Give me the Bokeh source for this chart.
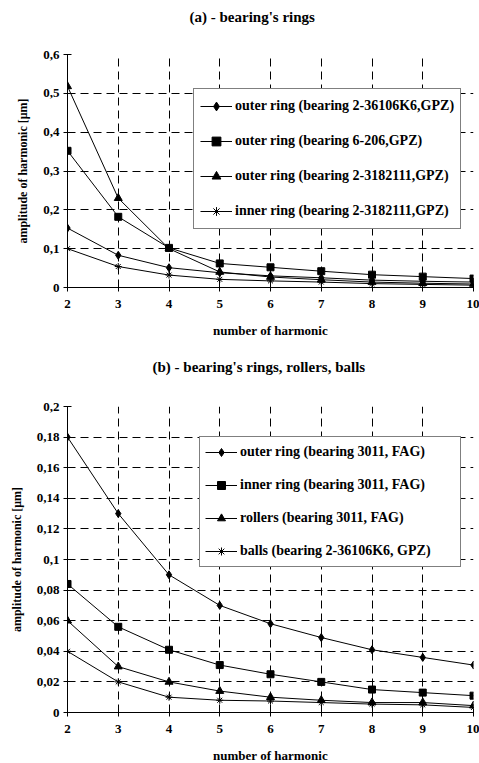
from bokeh.plotting import figure
from bokeh.layouts import column
from bokeh.models import FixedTicker, CustomJSTickFormatter, Legend, LegendItem, Title
from bokeh.embed import file_html
from bokeh.resources import INLINE

# ---------------- data ----------------
harmonics = [2, 3, 4, 5, 6, 7, 8, 9, 10]

a_title = "(a) - bearing's rings"
a_labels = [
    "outer ring (bearing 2-36106K6,GPZ)",
    "outer ring (bearing 6-206,GPZ)",
    "outer ring (bearing 2-3182111,GPZ)",
    "inner ring (bearing 2-3182111,GPZ)",
]
a_outer_36106 = [0.153, 0.083, 0.051, 0.038, 0.030, 0.025, 0.019, 0.016, 0.014]
a_outer_6206 = [0.352, 0.182, 0.102, 0.062, 0.052, 0.042, 0.033, 0.028, 0.023]
a_outer_3182111 = [0.518, 0.230, 0.100, 0.040, 0.027, 0.020, 0.014, 0.011, 0.009]
a_inner_3182111 = [0.100, 0.054, 0.032, 0.021, 0.017, 0.014, 0.010, 0.008, 0.006]
a_yticks = [0, 0.1, 0.2, 0.3, 0.4, 0.5, 0.6]

b_title = "(b) - bearing's rings, rollers, balls"
b_labels = [
    "outer ring (bearing 3011, FAG)",
    "inner ring (bearing 3011, FAG)",
    "rollers (bearing 3011, FAG)",
    "balls (bearing 2-36106K6, GPZ)",
]
b_outer = [0.180, 0.130, 0.090, 0.070, 0.058, 0.049, 0.041, 0.036, 0.031]
b_inner = [0.084, 0.056, 0.041, 0.031, 0.025, 0.020, 0.015, 0.013, 0.011]
b_rollers = [0.060, 0.030, 0.020, 0.014, 0.010, 0.008, 0.0065, 0.0065, 0.0045]
b_balls = [0.040, 0.020, 0.010, 0.008, 0.0075, 0.0065, 0.0055, 0.005, 0.0033]
b_yticks = [0, 0.02, 0.04, 0.06, 0.08, 0.1, 0.12, 0.14, 0.16, 0.18, 0.2]

x_label = "number of harmonic"
y_label = "amplitude of harmonic [\u03bcm]"

markers = ["diamond", "square", "triangle", "asterisk"]
marker_sizes = [8, 7, 8, 7]

FONT = "Liberation Serif"


def make_plot(title, series, labels, yticks, ymax, frame_h, top, bottom, legend_loc,
              leg_lh, leg_sp, leg_pad, leg_lw, title_offset, title_standoff, spacer_standoff):
    p = figure(frame_width=406, frame_height=frame_h, x_range=(2, 10), y_range=(0, ymax),
               output_backend="svg", toolbar_location=None,
               min_border_left=67, min_border_right=6,
               min_border_top=top, min_border_bottom=bottom)
    p.outline_line_color = None
    p.background_fill_color = "white"
    p.border_fill_color = "white"

    # spacer panel between frame and title (keeps the title high above the frame)
    p.add_layout(Title(text=" ", text_font=FONT, text_font_size="15px",
                       standoff=spacer_standoff), "above")
    p.title = Title(text=title, align="left", offset=title_offset,
                    text_font=FONT, text_font_size="15px", text_font_style="bold",
                    text_color="black", standoff=title_standoff)

    for ax in (p.xaxis[0], p.yaxis[0]):
        ax.axis_line_color = "black"
        ax.major_tick_line_color = "black"
        ax.major_tick_in = 4
        ax.major_tick_out = 4
        ax.minor_tick_line_color = None
        ax.major_label_text_font = FONT
        ax.major_label_text_font_style = "bold"
        ax.major_label_text_font_size = "13px"
        ax.major_label_text_color = "black"
        ax.axis_label_text_font = FONT
        ax.axis_label_text_font_style = "bold"
        ax.axis_label_text_color = "black"

    p.xaxis.axis_label_text_font_size = "13px"
    p.yaxis.axis_label_text_font_size = "12px"
    p.xaxis.ticker = FixedTicker(ticks=harmonics)
    p.yaxis.ticker = FixedTicker(ticks=yticks)
    p.yaxis.formatter = CustomJSTickFormatter(
        code="return (Math.round(tick*100)/100).toString().replace('.', ',');")
    p.xaxis.axis_label = x_label
    p.yaxis.axis_label = y_label
    p.xaxis.major_label_standoff = 8
    p.yaxis.major_label_standoff = 4
    p.xaxis.axis_label_standoff = 12
    p.yaxis.axis_label_standoff = 10

    for g in (p.xgrid, p.ygrid):
        g.grid_line_color = "black"
        g.grid_line_dash = "8 5"
        g.grid_line_width = 1
        g.grid_line_alpha = 1

    items = []
    for vals, lab, m, ms in zip(series, labels, markers, marker_sizes):
        lr = p.line(harmonics, vals, line_color="black", line_width=1)
        mr = p.scatter(harmonics, vals, marker=m, size=ms, fill_color="black",
                       line_color="black", line_width=1)
        items.append(LegendItem(label=lab, renderers=[lr, mr]))

    leg = Legend(items=items, location=legend_loc)
    leg.label_text_font = FONT
    leg.label_text_font_style = "bold"
    leg.label_text_font_size = "14px"
    leg.label_text_color = "black"
    leg.label_height = leg_lh
    leg.label_width = leg_lw
    leg.glyph_height = leg_lh
    leg.glyph_width = 32
    leg.label_standoff = 3
    leg.spacing = leg_sp
    leg.padding = leg_pad
    leg.margin = 0
    leg.border_line_color = "black"
    leg.border_line_width = 1
    leg.background_fill_color = "white"
    leg.background_fill_alpha = 1
    p.add_layout(leg)
    return p


pa = make_plot(a_title, [a_outer_36106, a_outer_6206, a_outer_3182111, a_inner_3182111],
               a_labels, a_yticks, 0.6, 233, 54, 57, (126, 58), 22, 13, 6, 20,
               122, 10, 7)
pb = make_plot(b_title, [b_outer, b_inner, b_rollers, b_balls],
               b_labels, b_yticks, 0.2, 306, 62, 51, (132, 145), 20, 13, 5, 215,
               85, 22, 3)

layout = column(pa, pb, spacing=0)
open("out.html", "w").write(file_html(layout, INLINE))
